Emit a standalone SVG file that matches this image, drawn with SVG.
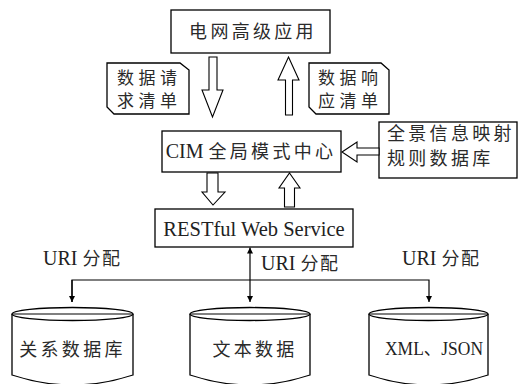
<svg xmlns="http://www.w3.org/2000/svg" width="525" height="384" viewBox="0 0 525 384">
<style>
.box{fill:#fff;stroke:#000;stroke-width:1.3}
.blk{fill:#fff;stroke:#000;stroke-width:1.1}
.ln{fill:none;stroke:#000;stroke-width:1.2}
.cn{font-family:"Noto Sans CJK SC","Noto Sans",sans-serif;font-size:18px;letter-spacing:3.3px;fill:#2a2a2a}
.nt{font-family:"Noto Sans CJK SC","Noto Sans",sans-serif;font-size:17px;letter-spacing:4.5px;fill:#2a2a2a}
.la{font-family:"Liberation Serif","Noto Sans CJK SC",serif;font-size:20px;fill:#222;letter-spacing:0}
</style>
<defs>
<marker id="ah" viewBox="0 0 10 10" refX="10" refY="5" markerWidth="6" markerHeight="8" markerUnits="userSpaceOnUse" orient="auto">
<path d="M0,0 L10,5 L0,10 z" fill="#000"/>
</marker>
</defs>
<rect width="525" height="384" fill="#fff"/>

<g id="top">
<rect class="box" x="171" y="10" width="159" height="43"/>
<text class="cn" x="253" y="38" text-anchor="middle">电网高级应用</text>
</g>

<g id="note-req">
<path class="box" d="M107,63 L180,63 L189,70 L189,114 L114,114 L107,107 Z"/>
<text class="nt" x="117" y="84">数据请</text>
<text class="nt" x="117" y="107">求清单</text>
</g>

<g id="note-resp">
<path class="box" d="M309,63 L381,63 L389,70 L389,114 L316,114 L309,107 Z"/>
<text class="nt" x="318" y="84">数据响</text>
<text class="nt" x="318" y="107">应清单</text>
</g>

<g id="cim">
<rect class="box" x="162" y="131" width="179" height="41"/>
<text x="251" y="158" text-anchor="middle"><tspan class="la">CIM </tspan><tspan class="cn">全局模式中心</tspan></text>
</g>

<g id="mapping">
<rect class="box" x="379" y="122" width="138" height="56"/>
<text class="cn" x="387" y="140">全景信息映射</text>
<text class="cn" x="387" y="165">规则数据库</text>
</g>

<g id="rest">
<rect class="box" x="155" y="209" width="198" height="38"/>
<text class="la" x="254" y="236" text-anchor="middle" style="font-size:20.5px">RESTful Web Service</text>
</g>

<g id="db-rel">
<path class="box" d="M12,314 L12,375 Q72.5,395 133,375 L133,314"/>
<ellipse class="box" cx="72.5" cy="314" rx="60.5" ry="6.5"/>
<line class="ln" x1="12" y1="314" x2="133" y2="314"/>
<text class="cn" x="72.5" y="356" text-anchor="middle">关系数据库</text>
</g>

<g id="db-text">
<path class="box" d="M190,314 L190,375 Q250,395 310,375 L310,314"/>
<ellipse class="box" cx="250" cy="314" rx="60" ry="6.5"/>
<line class="ln" x1="190" y1="314" x2="310" y2="314"/>
<text class="cn" x="255" y="356" text-anchor="middle">文本数据</text>
</g>

<g id="db-xml">
<path class="box" d="M369,314 L369,375 Q428.5,395 488,375 L488,314"/>
<ellipse class="box" cx="428.5" cy="314" rx="59.5" ry="6.5"/>
<line class="ln" x1="369" y1="314" x2="488" y2="314"/>
<text class="la" x="385" y="355" style="font-size:19px" textLength="98" lengthAdjust="spacingAndGlyphs">XML、JSON</text>
</g>

<g id="connectors">
<polygon class="blk" points="209,57 217,57 217,90 223,90 212.5,117 202,90 209,90"/>
<polygon class="blk" points="288.5,57 299,80 292.5,80 292.5,115 285.5,115 285.5,80 278,80"/>
<polygon class="blk" points="342,152 357,142 357,148 379,148 379,155 357,155 357,162"/>
<polygon class="blk" points="207,173 218,173 218,192 225,192 213,205 202,192 207,192"/>
<polygon class="blk" points="289.5,173 300,188 294.5,188 294.5,207 284.5,207 284.5,188 279,188"/>
<line class="ln" x1="250" y1="280" x2="250" y2="247.5" marker-end="url(#ah)"/>
<line class="ln" x1="250" y1="280" x2="250" y2="302" marker-end="url(#ah)"/>
<polyline class="ln" points="72,302 72,280 429,280 429,302" marker-end="url(#ah)"/>
<line class="ln" x1="72" y1="280" x2="72" y2="302" marker-end="url(#ah)"/>
<text x="43" y="265"><tspan class="la">URI </tspan><tspan class="cn" style="letter-spacing:1.5px">分配</tspan></text>
<text x="261" y="270"><tspan class="la">URI </tspan><tspan class="cn" style="letter-spacing:1.5px">分配</tspan></text>
<text x="402" y="265"><tspan class="la">URI </tspan><tspan class="cn" style="letter-spacing:1.5px">分配</tspan></text>
</g>
</svg>
